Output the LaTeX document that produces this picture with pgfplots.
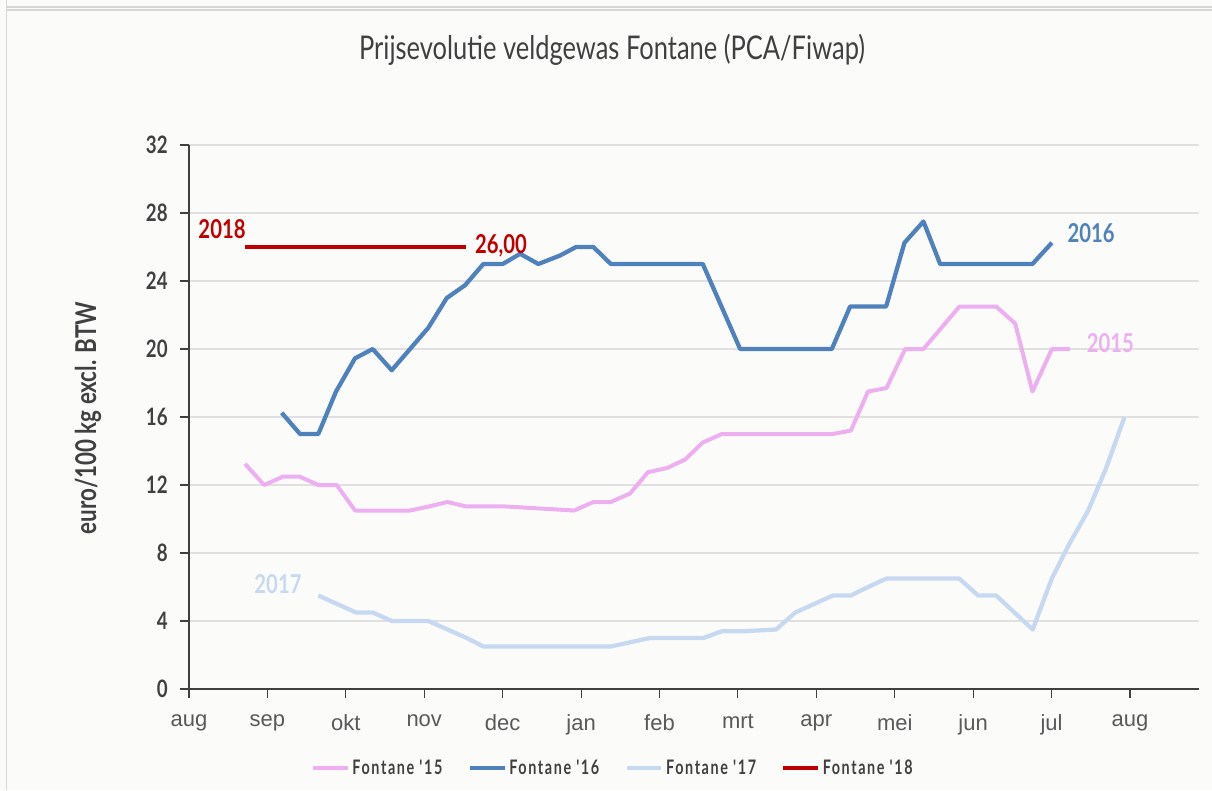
\documentclass[border=0pt]{standalone}
\usepackage{fontspec}
\setmainfont{Lato}
\newfontfamily\cond[FakeStretch=0.78]{Lato}
\newfontfamily\legf[FakeStretch=0.72,LetterSpace=8]{Lato}
\newfontfamily\arialf{Liberation Sans}
\usepackage{pgfplots}
\pgfplotsset{compat=1.18}
\definecolor{c15}{RGB}{238,175,240}
\definecolor{c16}{RGB}{79,129,189}
\definecolor{c17}{RGB}{198,217,241}
\definecolor{c18}{RGB}{192,0,0}
\definecolor{txt}{RGB}{64,64,64}
\definecolor{ticktxt}{RGB}{89,89,89}
\definecolor{bg}{RGB}{251,252,250}
\definecolor{frame}{RGB}{215,215,215}
\begin{document}
\begin{tikzpicture}
\path[use as bounding box, fill=bg] (0,0) rectangle (909pt,592.5pt);
\draw[frame, line width=1pt] (5pt,0) -- (5pt,592.5pt);
\draw[frame, line width=1pt] (5pt,587.25pt) -- (909pt,587.25pt);
\draw[frame, line width=1pt] (5pt,585pt) -- (909pt,585pt);
\begin{axis}[
  at={(141.75pt,75.75pt)}, anchor=south west,
  scale only axis, width=757.5pt, height=408pt,
  xmin=0, xmax=12.88, ymin=0, ymax=32,
  clip=false,
  axis lines=left,
  axis line style={-, draw=black!75, line width=0.8pt},
  tick align=outside, major tick length=6.5pt,
  tick style={draw=black!75, line width=0.8pt},
  xtick={0,...,12},
  xticklabels={aug,sep,okt,nov,dec,jan,feb,mrt,apr,mei,jun,jul,aug},
  ytick={0,4,...,32},
  ymajorgrids,
  grid style={draw=black!12, line width=0.8pt},
  xticklabel style={font=\arialf\fontsize{16.5}{16.5}\selectfont, text=ticktxt, yshift=-9pt},
  yticklabel style={font=\cond\bfseries\fontsize{18}{18}\selectfont, text=txt, xshift=-6pt},
  /pgf/number format/assume math mode=true,
  legend columns=4,
  legend style={at={(axis cs:5.41,-4.65)}, anchor=center, draw=none, fill=none,
    font=\legf\bfseries\fontsize{15}{15}\selectfont, text=txt,
    /tikz/every even column/.append style={column sep=17pt}},
  legend image code/.code={\draw[#1] (0pt,0pt) -- (26pt,0pt);},
]
\addplot[c15, line width=3pt, line join=round] coordinates {
(0.714,13.25) (0.957,12) (1.203,12.5) (1.407,12.5) (1.649,12) (1.884,12)
(2.117,10.5) (2.819,10.5) (3.074,10.75) (3.295,11) (3.520,10.75) (3.989,10.75)
(4.911,10.5) (5.157,11) (5.379,11) (5.624,11.5) (5.852,12.75) (6.097,13)
(6.327,13.5) (6.551,14.5) (6.795,15) (8.210,15) (8.440,15.2) (8.659,17.5)
(8.894,17.7) (9.133,20) (9.366,20) (9.825,22.5) (10.293,22.5) (10.536,21.5)
(10.756,17.5) (11.004,20) (11.237,20)
};
\addlegendentry{Fontane '15}
\addplot[c16, line width=3.2pt, line join=round] coordinates {
(1.182,16.25) (1.416,15) (1.649,15) (1.875,17.5) (2.117,19.45) (2.343,20)
(2.585,18.75) (2.819,20) (3.052,21.25) (3.287,23) (3.520,23.75) (3.754,25)
(4.001,25) (4.222,25.6) (4.455,25) (4.732,25.5) (4.936,26) (5.157,26)
(5.379,25) (6.552,25) (7.028,20) (8.198,20) (8.431,22.5) (8.890,22.5)
(9.124,26.25) (9.366,27.5) (9.579,25) (10.756,25) (11.004,26.25)
};
\addlegendentry{Fontane '16}
\addplot[c17, line width=3.2pt, line join=round] coordinates {
(1.649,5.5) (2.130,4.5) (2.343,4.5) (2.585,4) (3.052,4) (3.542,3) (3.754,2.5)
(5.379,2.5) (5.878,3) (6.560,3) (6.795,3.4) (7.073,3.4) (7.487,3.5) (7.732,4.5)
(8.210,5.5) (8.440,5.5) (8.659,6) (8.894,6.5) (9.821,6.5) (10.064,5.5)
(10.293,5.5) (10.759,3.5) (11.003,6.5) (11.222,8.5) (11.467,10.5) (11.696,13)
(11.930,16)
};
\addlegendentry{Fontane '17}
\addplot[c18, line width=3pt] coordinates {(0.714,26) (3.533,26)};
\addlegendentry{Fontane '18}
\node[font=\cond\bfseries\fontsize{19.5}{19.5}\selectfont, text=c18] at (axis cs:0.421,27.06) {2018};
\node[font=\cond\bfseries\fontsize{19.5}{19.5}\selectfont, text=c18] at (axis cs:3.98,26.06) {26,00};
\node[font=\cond\bfseries\fontsize{19.5}{19.5}\selectfont, text=c16] at (axis cs:11.505,26.8) {2016};
\node[font=\cond\bfseries\fontsize{19.5}{19.5}\selectfont, text=c15] at (axis cs:11.75,20.35) {2015};
\node[font=\cond\bfseries\fontsize{19.5}{19.5}\selectfont, text=c17] at (axis cs:1.135,6.18) {2017};
\node[rotate=90, font=\cond\bfseries\fontsize{21.5}{21.5}\selectfont, text=txt] at (axis cs:-1.288,15.94) {euro/100 kg excl. BTW};
\node[font=\cond\fontsize{24.5}{24.5}\selectfont, text=txt] at (axis cs:5.395,37.59) {Prijsevolutie veldgewas Fontane (PCA/Fiwap)};
\end{axis}
\end{tikzpicture}
\end{document}
